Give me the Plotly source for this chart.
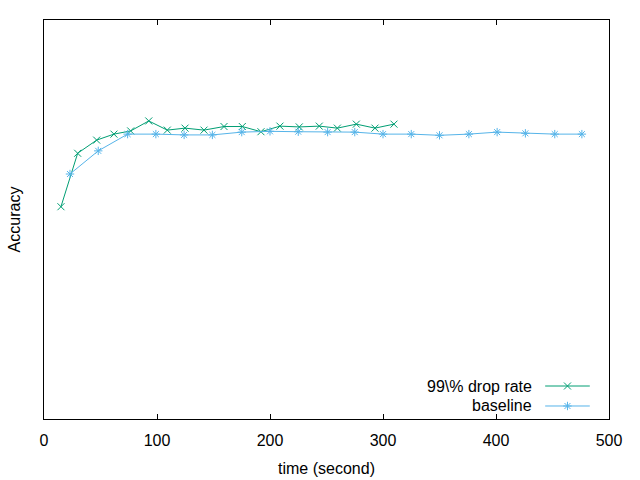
import plotly.graph_objects as go

# ---- data ----
drop_time = [15.0, 29.8, 46.6, 61.9, 76.7, 92.7, 109.1, 124.8, 141.6, 159.3,
             175.5, 192.0, 208.8, 225.9, 243.6, 259.6, 276.4, 292.9, 309.7]
drop_acc = [0.532, 0.666, 0.699, 0.714, 0.722, 0.747, 0.724, 0.729, 0.724, 0.733,
            0.733, 0.720, 0.734, 0.732, 0.734, 0.729, 0.739, 0.729, 0.739]

base_time = [23, 48, 74, 99, 124, 149, 175, 200, 225, 251,
             275, 300, 325, 350, 376, 401, 426, 452, 476]
base_acc = [0.614, 0.672, 0.714, 0.714, 0.712, 0.712, 0.719, 0.721, 0.720, 0.719,
            0.719, 0.714, 0.714, 0.711, 0.714, 0.719, 0.716, 0.714, 0.714]

series_names = ["99\\% drop rate", "baseline"]
x_ticks = [0, 100, 200, 300, 400, 500]

GREEN = "#009e73"
BLUE = "#56b4e9"
FONT = "Liberation Sans"
FS = 16
MS = 7

fig = go.Figure()
fig.add_trace(go.Scatter(
    x=drop_time, y=drop_acc, mode="lines+markers", name=series_names[0],
    line=dict(color=GREEN, width=1),
    marker=dict(symbol="x-thin-open", size=MS, color=GREEN, line=dict(color=GREEN, width=1)),
    showlegend=False))
fig.add_trace(go.Scatter(
    x=base_time, y=base_acc, mode="lines+markers", name=series_names[1],
    line=dict(color=BLUE, width=1),
    marker=dict(symbol="asterisk-open", size=MS, color=BLUE, line=dict(color=BLUE, width=1)),
    showlegend=False))

# ---- gnuplot-style key (text left, sample right) on a hidden overlay axis ----
key_rows = [0.0827, 0.0326]
key_colors = [GREEN, BLUE]
key_symbols = ["x-thin-open", "asterisk-open"]
for name, yk, col, sym in zip(series_names, key_rows, key_colors, key_symbols):
    fig.add_trace(go.Scatter(
        x=[0.887, 0.966], y=[yk, yk], xaxis="x2", yaxis="y2", mode="lines",
        line=dict(color=col, width=1), showlegend=False, hoverinfo="skip"))
    fig.add_trace(go.Scatter(
        x=[0.9265], y=[yk], xaxis="x2", yaxis="y2", mode="markers",
        marker=dict(symbol=sym, size=MS, color=col, line=dict(color=col, width=1)),
        showlegend=False, hoverinfo="skip"))
    fig.add_annotation(x=0.867, y=yk, xref="x2", yref="y2", text=name,
                       showarrow=False, xanchor="right", yanchor="middle",
                       font=dict(family=FONT, size=FS, color="black"))

fig.update_layout(
    width=640, height=480,
    margin=dict(l=44, r=31, t=20, b=61),
    plot_bgcolor="white", paper_bgcolor="white",
    font=dict(family=FONT, size=FS, color="black"),
    xaxis=dict(range=[0, 500], tickvals=x_ticks, ticks="inside", ticklen=5,
               tickcolor="black", showline=True, linecolor="black", linewidth=1,
               mirror="allticks", showgrid=False, zeroline=False, automargin=False,
               ticklabelstandoff=7,
               title=dict(text="time (second)", standoff=14, font=dict(size=FS)),
               tickfont=dict(family=FONT, size=FS)),
    yaxis=dict(range=[0, 1], showticklabels=False, ticks="", showline=True,
               linecolor="black", linewidth=1, mirror=True, showgrid=False,
               zeroline=False, automargin=False,
               title=dict(text="Accuracy", standoff=18, font=dict(size=FS))),
    xaxis2=dict(range=[0, 1], overlaying="x", visible=False, fixedrange=True),
    yaxis2=dict(range=[0, 1], overlaying="y", visible=False, fixedrange=True),
)

fig.write_html("out.html")
